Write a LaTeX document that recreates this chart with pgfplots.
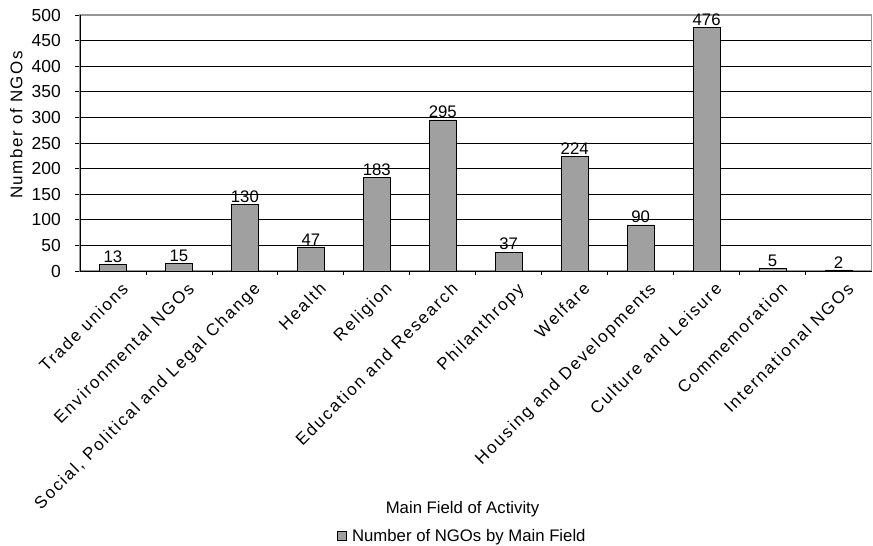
\documentclass[border=0pt]{standalone}
\usepackage{pgfplots}
\pgfplotsset{compat=1.18}
\usepackage{fontspec}
\setmainfont{Liberation Sans}
\newfontfamily\rotfam{Liberation Sans}[LetterSpace=11]
\newfontfamily\ylabfam{Liberation Sans}[LetterSpace=9]
\definecolor{barfill}{RGB}{160,160,160}
\definecolor{boxgray}{RGB}{150,150,150}
\newcommand{\chartfont}{\fontsize{16.8}{19}\selectfont}
\begin{document}
\begin{tikzpicture}
\begin{axis}[
  at={(0,0)}, anchor=south west,
  scale only axis, width=791.5bp, height=256bp,
  xmin=-0.5, xmax=11.5, ymin=0, ymax=500,
  ytick={0,50,...,500},
  xtick={0,...,11},
  xticklabels={Trade unions,Environmental NGOs,{Social, Political and Legal Change},Health,Religion,Education and Research,Philanthropy,Welfare,Housing and Developments,Culture and Leisure,Commemoration,International NGOs},
  minor xtick={0.5,1.5,...,10.5},
  major x tick style={draw=none},
  minor tick length=4bp,
  major tick length=5bp,
  tick align=outside,
  tick style={black, line width=0.8pt},
  xtick pos=bottom, ytick pos=left,
  ymajorgrids, grid style={black, line width=0.7pt},
  axis line style={boxgray, line width=1.2pt},
  x tick label style={rotate=45, anchor=north east, inner sep=0pt, xshift=1.5bp, yshift=-9bp, font=\rotfam\fontsize{17}{19}\selectfont},
  y tick label style={inner sep=0pt, anchor=east, xshift=-14bp, font=\fontsize{17.5}{19}\selectfont},
  /pgf/number format/assume math mode=true,
  ybar, bar width=27bp,
  nodes near coords,
  every node near coord/.append style={font=\chartfont, black, inner sep=0pt, yshift=1.5bp},
  legend style={at={(0.3247,-1.0342)}, anchor=west, draw=none, fill=none, inner sep=0pt, column sep=6bp, nodes={inner sep=0pt}, font=\chartfont},
  legend image code/.code={\draw[fill=barfill,draw=black,line width=0.6pt] (0bp,-4.2bp) rectangle (8.3bp,4.2bp);},
  clip=false,
]
\addplot[fill=barfill, draw=black, line width=0.8pt] coordinates {
(0,13) (1,15) (2,130) (3,47) (4,183) (5,295) (6,37) (7,224) (8,90) (9,476) (10,5) (11,2)};
\addlegendentry{Number of NGOs by Main Field}
\draw[black, line width=1pt] (rel axis cs:0,0) -- (rel axis cs:1,0);
\draw[black, line width=1pt] (rel axis cs:0,0) -- (rel axis cs:0,1);
\node[font=\chartfont, anchor=base] at ([yshift=-242.3bp]rel axis cs:0.4833,0) {Main Field of Activity};
\node[font=\ylabfam\fontsize{17}{19}\selectfont, rotate=90, anchor=base] at ([xshift=-57.5bp]rel axis cs:0,0.570) {Number of NGOs};
\end{axis}
\useasboundingbox (-80bp,-275bp) rectangle (793bp,271bp);
\end{tikzpicture}
\end{document}
